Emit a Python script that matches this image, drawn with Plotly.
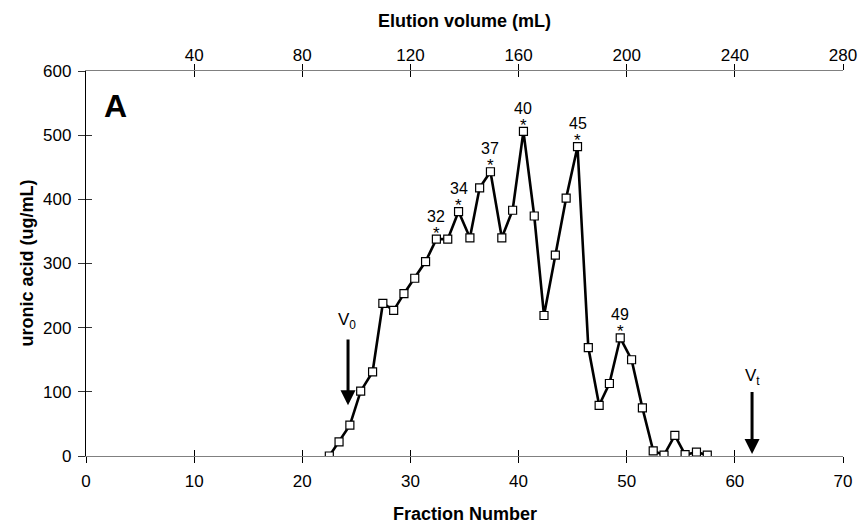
import plotly.graph_objects as go

# ---- data ----
fraction_numbers = list(range(22, 58))
fraction_x = [22.5, 23.4, 24.4, 25.4, 26.5, 27.45, 28.45, 29.4, 30.4, 31.4,
              32.4, 33.45, 34.45, 35.5, 36.4, 37.4, 38.45, 39.45, 40.45, 41.45,
              42.35, 43.4, 44.4, 45.45, 46.45, 47.45, 48.4, 49.4, 50.45, 51.45,
              52.45, 53.45, 54.45, 55.4, 56.45, 57.45]
uronic_acid = [0, 22, 48, 101, 131, 238, 227, 253, 277, 303,
               338, 338, 381, 340, 418, 443, 340, 383, 506, 374,
               219, 313, 402, 482, 169, 79, 113, 184, 150, 75,
               8, 1.5, 32, 2, 6, 1.5]
peak_fractions = [32, 34, 37, 40, 45, 49]

x_ticks = [0, 10, 20, 30, 40, 50, 60, 70]
volume_ticks = [40, 80, 120, 160, 200, 240, 280]
y_ticks = [0, 100, 200, 300, 400, 500, 600]

v0_x, v0_top, v0_tip = 24.23, 184, 79
vt_x, vt_top, vt_tip = 61.59, 102, 3

FONT = "Liberation Sans, Arial, sans-serif"

fig = go.Figure()
fig.add_trace(go.Scatter(
    x=fraction_x, y=uronic_acid, mode="lines+markers",
    line=dict(color="black", width=2.6),
    marker=dict(symbol="square", size=8, color="white",
                line=dict(color="black", width=1.2)),
    showlegend=False, hoverinfo="x+y"))

ann = []
for pf in peak_fractions:
    i = fraction_numbers.index(pf)
    ann.append(dict(x=fraction_x[i], y=uronic_acid[i], xref="x", yref="y",
                    text=str(pf), showarrow=False, yshift=23,
                    xanchor="center", yanchor="middle",
                    font=dict(size=16, color="black", family=FONT)))
    ann.append(dict(x=fraction_x[i], y=uronic_acid[i], xref="x", yref="y",
                    text="*", showarrow=False, yshift=6,
                    xanchor="center", yanchor="middle",
                    font=dict(size=17, color="black", family=FONT)))

# V0 and Vt arrows
for xx, top, tip in [(v0_x, v0_top, v0_tip), (vt_x, vt_top, vt_tip)]:
    ann.append(dict(x=xx, y=tip, ax=xx, ay=top, xref="x", yref="y",
                    axref="x", ayref="y", text="", showarrow=True,
                    arrowhead=2, arrowsize=1, arrowwidth=3, arrowcolor="black"))
ann.append(dict(x=v0_x - 0.05, y=v0_top, xref="x", yref="y", text="V<sub>0</sub>",
                showarrow=False, yshift=17, xanchor="center", yanchor="middle",
                font=dict(size=17, color="black", family=FONT)))
ann.append(dict(x=vt_x, y=vt_top, xref="x", yref="y", text="V<sub>t</sub>",
                showarrow=False, yshift=14, xanchor="center", yanchor="middle",
                font=dict(size=17, color="black", family=FONT)))
# panel letter
ann.append(dict(x=0.039, y=0.91, xref="paper", yref="paper", text="<b>A</b>",
                showarrow=False, xanchor="center", yanchor="middle",
                font=dict(size=32, color="black", family=FONT)))
# axis titles
ann.append(dict(x=0.5, y=0, xref="paper", yref="paper", text="<b>Fraction Number</b>",
                showarrow=False, yshift=-58, xanchor="center", yanchor="middle",
                font=dict(size=18, color="black", family=FONT)))
ann.append(dict(x=0.5, y=1, xref="paper", yref="paper", text="<b>Elution volume (mL)</b>",
                showarrow=False, yshift=50, xanchor="center", yanchor="middle",
                font=dict(size=18, color="black", family=FONT)))
ann.append(dict(x=0, y=0.5, xref="paper", yref="paper", text="<b>uronic acid (ug/mL)</b>",
                showarrow=False, xshift=-60, textangle=-90,
                xanchor="center", yanchor="middle",
                font=dict(size=18, color="black", family=FONT)))

tickfont = dict(size=17, color="black", family=FONT)

# page body has an 8px default margin, so the figure is sized to compensate
fig.update_layout(
    width=859, height=521,
    margin=dict(l=78, r=24, t=63, b=73, autoexpand=False),
    paper_bgcolor="white", plot_bgcolor="white",
    font=dict(family=FONT, color="black"),
    annotations=ann,
    xaxis=dict(range=[0, 70], tickvals=x_ticks, ticks="outside", ticklen=6,
               tickcolor="black", showline=True, linecolor="#808080", linewidth=1.3,
               showgrid=False, zeroline=False, tickfont=tickfont,
               ticklabelstandoff=3),
    xaxis2=dict(range=[0, 280], tickvals=volume_ticks, ticks="inside", ticklen=6,
                tickcolor="black", showline=True, linecolor="#808080", linewidth=1.3,
                showgrid=False, zeroline=False, side="top", overlaying="x",
                anchor="y", tickfont=tickfont, ticklabelstandoff=2),
    xaxis3=dict(range=[0, 70], tickvals=x_ticks, ticks="inside", ticklen=6,
                tickcolor="black", showline=False, showticklabels=False,
                showgrid=False, zeroline=False, overlaying="x", anchor="y"),
    xaxis4=dict(range=[0, 280], tickvals=volume_ticks, ticks="outside", ticklen=6,
                tickcolor="black", showline=False, showticklabels=False,
                showgrid=False, zeroline=False, side="top", overlaying="x",
                anchor="y"),
    yaxis=dict(range=[0, 600], tickvals=y_ticks, ticks="outside", ticklen=7,
               tickcolor="#333333", showline=True, linecolor="black", linewidth=1.3,
               showgrid=False, zeroline=False, tickfont=tickfont,
               ticklabelstandoff=3),
    yaxis2=dict(range=[0, 600], tickvals=y_ticks, ticks="inside", ticklen=6,
                tickcolor="#333333", showline=False, showticklabels=False,
                showgrid=False, zeroline=False, overlaying="y", anchor="x"),
)

# invisible traces so overlay axes are rendered
fig.add_trace(go.Scatter(x=[None], y=[None], xaxis="x2", yaxis="y",
                         showlegend=False, hoverinfo="skip"))
fig.add_trace(go.Scatter(x=[None], y=[None], xaxis="x3", yaxis="y2",
                         showlegend=False, hoverinfo="skip"))
fig.add_trace(go.Scatter(x=[None], y=[None], xaxis="x4", yaxis="y2",
                         showlegend=False, hoverinfo="skip"))

fig.write_html("out.html")
